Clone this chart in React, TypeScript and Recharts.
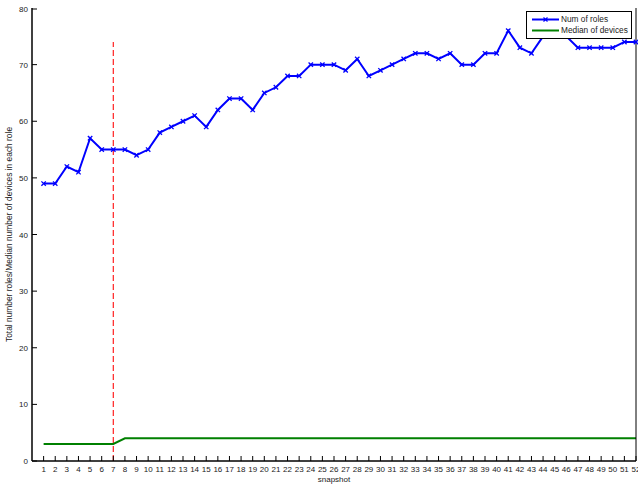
import React from "react";
import {
  LineChart,
  Line,
  XAxis,
  YAxis,
  Legend,
  ReferenceLine,
} from "recharts";

// snapshot index
const snapshots = [
  1, 2, 3, 4, 5, 6, 7, 8, 9, 10, 11, 12, 13, 14, 15, 16, 17, 18, 19, 20, 21, 22, 23, 24, 25, 26,
  27, 28, 29, 30, 31, 32, 33, 34, 35, 36, 37, 38, 39, 40, 41, 42, 43, 44, 45, 46, 47, 48, 49, 50, 51, 52,
];

const numRoles = [
  49, 49, 52, 51, 57, 55, 55, 55, 54, 55, 58, 59, 60, 61, 59, 62, 64, 64, 62, 65, 66, 68, 68, 70, 70, 70,
  69, 71, 68, 69, 70, 71, 72, 72, 71, 72, 70, 70, 72, 72, 76, 73, 72, 75, 76, 75, 73, 73, 73, 73, 74, 74,
];

const medianDevices = [
  3, 3, 3, 3, 3, 3, 3, 4, 4, 4, 4, 4, 4, 4, 4, 4, 4, 4, 4, 4, 4, 4, 4, 4, 4, 4,
  4, 4, 4, 4, 4, 4, 4, 4, 4, 4, 4, 4, 4, 4, 4, 4, 4, 4, 4, 4, 4, 4, 4, 4, 4, 4,
];

const yTicks = [0, 10, 20, 30, 40, 50, 60, 70, 80];
const splitSnapshot = 7;
const splitTop = 74;

const data = snapshots.map((s, i) => ({
  snapshot: s,
  roles: numRoles[i],
  median: medianDevices[i],
}));

const FONT = "'Liberation Sans', Arial, Helvetica, sans-serif";
const TXT = "#222";
const TL = 5; // tick length, drawn inward

const BottomTick = (props: any) => {
  const { x, y, payload } = props;
  return (
    <g>
      <line x1={x} x2={x} y1={y} y2={y - TL} stroke="#000" strokeWidth={1} />
      <text x={x} y={y} dy={10.5} textAnchor="middle" fontSize={8} fill={TXT} fontFamily={FONT}>
        {payload.value}
      </text>
    </g>
  );
};

const TopTick = (props: any) => {
  const { x, y } = props;
  return <line x1={x} x2={x} y1={y} y2={y + TL} stroke="#000" strokeWidth={1} />;
};

const LeftTick = (props: any) => {
  const { x, y, payload } = props;
  return (
    <g>
      <line x1={x} x2={x + TL} y1={y} y2={y} stroke="#000" strokeWidth={1} />
      <text x={x - 4} y={y} dy={3} textAnchor="end" fontSize={8} fill={TXT} fontFamily={FONT}>
        {payload.value}
      </text>
    </g>
  );
};

const RightTick = (props: any) => {
  const { x, y } = props;
  return <line x1={x} x2={x - TL} y1={y} y2={y} stroke="#000" strokeWidth={1} />;
};

const CrossDot = (props: any) => {
  const { cx, cy, index } = props;
  if (cx == null || cy == null) return <g key={index} />;
  const r = 2.2;
  return (
    <g key={index} stroke="#0000ff" strokeWidth={1.3}>
      <line x1={cx - r} y1={cy - r} x2={cx + r} y2={cy + r} />
      <line x1={cx - r} y1={cy + r} x2={cx + r} y2={cy - r} />
    </g>
  );
};

const LegendBox = () => (
  <div
    style={{
      border: "1px solid #000",
      background: "#fff",
      width: 106,
      padding: "2px 0 2px 5px",
      fontFamily: FONT,
      fontSize: 8.3,
      color: TXT,
      lineHeight: "11px",
      boxSizing: "border-box",
    }}
  >
    <div style={{ display: "flex", alignItems: "center" }}>
      <svg width={28} height={11}>
        <line x1={0} x2={27} y1={5.5} y2={5.5} stroke="#0000ff" strokeWidth={2} />
        <line x1={11.5} y1={3.5} x2={15.5} y2={7.5} stroke="#0000ff" strokeWidth={1.3} />
        <line x1={11.5} y1={7.5} x2={15.5} y2={3.5} stroke="#0000ff" strokeWidth={1.3} />
      </svg>
      <span style={{ marginLeft: 1 }}>Num of roles</span>
    </div>
    <div style={{ display: "flex", alignItems: "center" }}>
      <svg width={28} height={11}>
        <line x1={0} x2={27} y1={5.5} y2={5.5} stroke="#008000" strokeWidth={2} />
      </svg>
      <span style={{ marginLeft: 1 }}>Median of devices</span>
    </div>
  </div>
);

export default function App() {
  return (
    <div style={{ position: "fixed", left: 0, top: 0, width: 638, height: 487, background: "#fff" }}>
      <LineChart
        width={638}
        height={487}
        data={data}
        margin={{ top: 8, right: 1, left: 0, bottom: 0 }}
      >
        <XAxis
          dataKey="snapshot"
          type="number"
          domain={[0, 52]}
          ticks={snapshots}
          interval={0}
          height={26}
          tickSize={0}
          tickMargin={0}
          tickLine={false}
          axisLine={{ stroke: "#000", strokeWidth: 1.5 }}
          tick={BottomTick}
          label={(p: any) => {
            const vb = p.viewBox;
            return (
              <text
                x={vb.x + vb.width / 2}
                y={482}
                textAnchor="middle"
                fontSize={8}
                fill={TXT}
                fontFamily={FONT}
              >
                snapshot
              </text>
            );
          }}
        />
        <XAxis
          xAxisId="top"
          orientation="top"
          dataKey="snapshot"
          type="number"
          domain={[0, 52]}
          ticks={snapshots}
          interval={0}
          height={0}
          tickSize={0}
          tickLine={false}
          axisLine={{ stroke: "#000", strokeWidth: 1 }}
          tick={TopTick}
        />
        <YAxis
          domain={[0, 80]}
          ticks={yTicks}
          width={32}
          tickSize={0}
          tickMargin={0}
          tickLine={false}
          axisLine={{ stroke: "#000", strokeWidth: 1.5 }}
          tick={LeftTick}
          label={(p: any) => {
            const vb = p.viewBox;
            const cy = vb.y + vb.height / 2;
            return (
              <text
                transform={`translate(11.5, ${cy}) rotate(-90)`}
                textAnchor="middle"
                fontSize={8.4}
                fill={TXT}
                fontFamily={FONT}
              >
                Total number roles/Median number of devices in each role
              </text>
            );
          }}
        />
        <YAxis
          yAxisId="right"
          orientation="right"
          domain={[0, 80]}
          ticks={yTicks}
          width={1}
          tickSize={0}
          tickLine={false}
          axisLine={{ stroke: "#000", strokeWidth: 1 }}
          tick={RightTick}
        />
        <ReferenceLine
          segment={[
            { x: splitSnapshot, y: 0 },
            { x: splitSnapshot, y: splitTop },
          ]}
          stroke="#ff2020"
          strokeDasharray="6 3"
          strokeWidth={1.2}
        />
        <Line
          type="linear"
          dataKey="median"
          stroke="#008000"
          strokeWidth={2}
          dot={false}
          isAnimationActive={false}
        />
        <Line
          type="linear"
          dataKey="roles"
          stroke="#0000ff"
          strokeWidth={2}
          dot={CrossDot}
          isAnimationActive={false}
        />
        <Legend
          layout="horizontal"
          align="center"
          verticalAlign="middle"
          content={LegendBox}
          wrapperStyle={{ left: 526, top: 11, width: 106, height: "auto", bottom: "auto", right: "auto" }}
        />
      </LineChart>
    </div>
  );
}
